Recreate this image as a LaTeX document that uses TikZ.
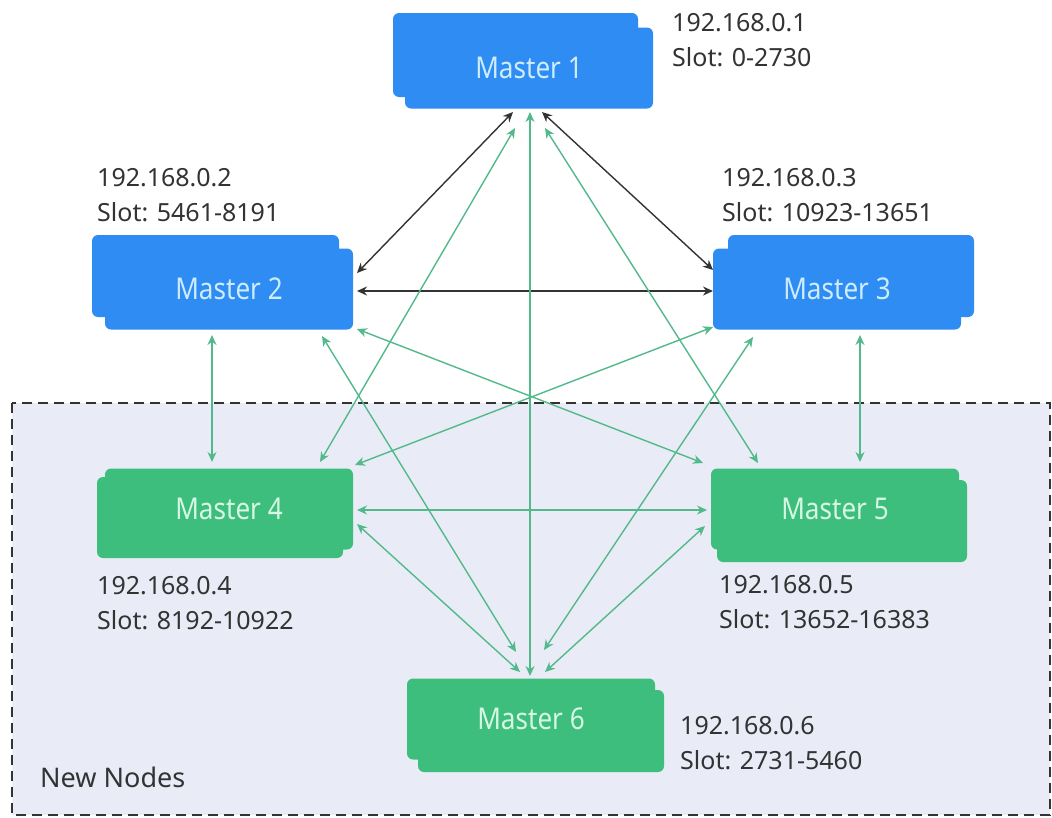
\documentclass[tikz,border=0pt]{standalone}
\usepackage{fontspec}
\setmainfont{Noto Sans}
\newfontfamily\mfontfam[FakeStretch=0.87]{Noto Sans}
\usetikzlibrary{arrows.meta,calc}
\definecolor{mblue}{RGB}{46,140,242}
\definecolor{mbluetext}{RGB}{205,236,255}
\definecolor{mgreen}{RGB}{61,190,124}
\definecolor{mgreentext}{RGB}{214,247,228}
\definecolor{regionfill}{RGB}{233,236,246}
\definecolor{labelgray}{RGB}{51,51,51}
\definecolor{blackline}{RGB}{51,51,51}
\definecolor{greenline}{RGB}{82,186,138}
\begin{document}
\begin{tikzpicture}[x=1pt,y=-1pt,
  mbox/.style={rounded corners=6pt, minimum width=248pt, minimum height=81pt, inner sep=0pt,
    font=\mfontfam\fontsize{30pt}{36pt}\selectfont},
  bluebox/.style={mbox, fill=mblue, text=mbluetext},
  greenbox/.style={mbox, fill=mgreen, text=mgreentext},
  lbl/.style={anchor=north west, inner sep=0pt, align=left, text=labelgray,
    font=\fontsize{25pt}{35pt}\selectfont},
  blk/.style={draw=blackline, line width=1.4pt, {Stealth[length=10pt,width=9pt]}-{Stealth[length=10pt,width=9pt]}},
  grn/.style={draw=greenline, line width=1.4pt, {Stealth[length=10pt,width=9pt]}-{Stealth[length=10pt,width=9pt]}},
  backbox/.style={rounded corners=6pt}
]
\useasboundingbox (0,0) rectangle (1052,817);
\fill[white] (0,0) rectangle (1052,817);

% New nodes region
\draw[fill=regionfill, draw=blackline, line width=1.8pt, dash pattern=on 10pt off 6pt] (12,403) rectangle (1050,815);
\node[anchor=west, inner sep=0pt, text=labelgray, font=\fontsize{27pt}{32pt}\selectfont] (newn) at (40,777) {New Nodes};

% back boxes
\fill[mblue, backbox] (393,13) rectangle (638,97);
\fill[mblue, backbox] (92,235) rectangle (339,317);
\fill[mblue, backbox] (728,235) rectangle (974,317);
\fill[mgreen, backbox] (97,477) rectangle (343,558);
\fill[mgreen, backbox] (717,480) rectangle (967,562);
\fill[mgreen, backbox] (418,690) rectangle (664,772);

% front boxes
\node[bluebox] (m1) at (529,68) {Master 1};
\node[bluebox] (m2) at (229,289) {Master 2};
\node[bluebox] (m3) at (837,289) {Master 3};
\node[greenbox] (m4) at (229,509) {Master 4};
\node[greenbox] (m5) at (835,509) {Master 5};
\node[greenbox] (m6) at (531,719) {Master 6};

% labels
\node[lbl] (l1) at (672,13) {192.168.0.1\\Slot: 0-2730};
\node[lbl] (l2) at (97,168) {192.168.0.2\\Slot: 5461-8191};
\node[lbl] (l3) at (722,168) {192.168.0.3\\Slot: 10923-13651};
\node[lbl] (l4) at (97,576) {192.168.0.4\\Slot: 8192-10922};
\node[lbl] (l5) at (719,575) {192.168.0.5\\Slot: 13652-16383};
\node[lbl] (l6) at (680,716) {192.168.0.6\\Slot: 2731-5460};

% black connectors
\draw[blk] ($(m1.center)+(-16,44)$) -- ($(m2.center)+(128,-16)$);
\draw[blk] ($(m1.center)+(13,44)$) -- ($(m3.center)+(-124,-19)$);
\draw[blk] ($(m2.center)+(128,2)$) -- ($(m3.center)+(-124,2)$);

% green connectors
\draw[grn] ($(m1.center)+(1,44)$) -- ($(m6.center)+(-1,-43)$);
\draw[grn] ($(m1.center)+(-14,60)$) -- ($(m4.center)+(91,-47)$);
\draw[grn] ($(m1.center)+(16,60)$) -- ($(m5.center)+(-77,-46)$);
\draw[grn] ($(m2.center)+(-17,46)$) -- ($(m4.center)+(-17,-47)$);
\draw[grn] ($(m3.center)+(23,46)$) -- ($(m5.center)+(25,-47)$);
\draw[grn] ($(m2.center)+(128,40)$) -- ($(m5.center)+(-132,-46)$);
\draw[grn] ($(m3.center)+(-124,38)$) -- ($(m4.center)+(126,-44)$);
\draw[grn] ($(m2.center)+(93,47)$) -- ($(m6.center)+(-15,-67)$);
\draw[grn] ($(m3.center)+(-84,48)$) -- ($(m6.center)+(13,-69)$);
\draw[grn] ($(m4.center)+(128,1)$) -- ($(m5.center)+(-128,1)$);
\draw[grn] ($(m4.center)+(128,15)$) -- ($(m6.center)+(-11,-47)$);
\draw[grn] ($(m5.center)+(-130,17)$) -- ($(m6.center)+(14,-47)$);
\end{tikzpicture}
\end{document}
